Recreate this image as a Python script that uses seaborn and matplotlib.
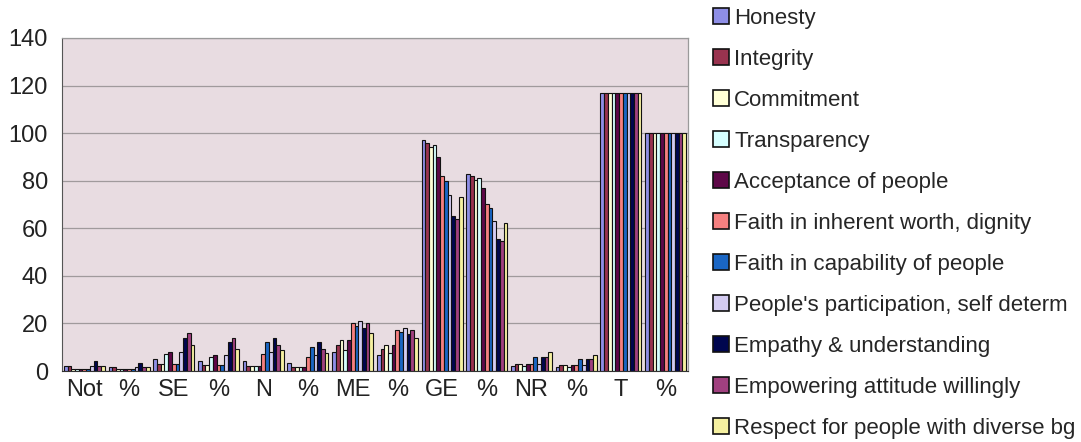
import matplotlib
matplotlib.use("Agg")
import matplotlib.pyplot as plt
from matplotlib.patches import Patch
import seaborn as sns
import pandas as pd

categories = ["Not", "%", "SE", "%", "N", "%", "ME", "%", "GE", "%", "NR", "%", "T", "%"]
series = ["Honesty", "Integrity", "Commitment", "Transparency", "Acceptance of people",
          "Faith in inherent worth, dignity", "Faith in capability of people",
          "People's participation, self determ", "Empathy & understanding",
          "Empowering attitude willingly", "Respect for people with diverse bg"]

honesty      = [2, 1.7, 5, 4.3, 4, 3.4, 8, 6.8, 97, 82.9, 2, 1.7, 117, 100]
integrity    = [2, 1.7, 3, 2.6, 2, 1.7, 11, 9.4, 96, 82.1, 3, 2.6, 117, 100]
commitment   = [1, 0.9, 3, 2.6, 2, 1.7, 13, 11.1, 94, 80.3, 3, 2.6, 117, 100]
transparency = [1, 0.9, 7, 6.0, 2, 1.7, 9, 7.7, 95, 81.2, 2, 1.7, 117, 100]
acceptance   = [1, 0.9, 8, 6.8, 2, 1.7, 13, 11.1, 90, 76.9, 3, 2.6, 117, 100]
faith_worth  = [1, 0.9, 3, 2.6, 7, 6.0, 20, 17.1, 82, 70.1, 3, 2.6, 117, 100]
faith_capab  = [1, 0.9, 3, 2.6, 12, 10.3, 19, 16.2, 80, 68.4, 6, 5.1, 117, 100]
participation= [2, 1.7, 8, 6.8, 8, 6.8, 21, 17.9, 74, 63.2, 3, 2.6, 117, 100]
empathy      = [4, 3.4, 14, 12.0, 14, 12.0, 18, 15.4, 65, 55.6, 6, 5.1, 117, 100]
empowering   = [2, 1.7, 16, 13.7, 11, 9.4, 20, 17.1, 64, 54.7, 6, 5.1, 117, 100]
respect      = [2, 1.7, 11, 9.4, 9, 7.7, 16, 13.7, 73, 62.4, 8, 6.8, 117, 100]

values = [honesty, integrity, commitment, transparency, acceptance, faith_worth,
          faith_capab, participation, empathy, empowering, respect]

colors = ["#8E8EE6", "#99334F", "#FFFFD6", "#D6FFFF", "#5E0848", "#F58080",
          "#1A66C4", "#D4CCF2", "#00064F", "#A0407F", "#F5F0A0"]

keys = [f"{i}_{c}" for i, c in enumerate(categories)]
rows = []
for s, vals in zip(series, values):
    for k, v in zip(keys, vals):
        rows.append({"cat": k, "series": s, "value": v})
df = pd.DataFrame(rows)

sns.set_style("white")
plt.rcParams["font.family"] = ["Liberation Sans", "DejaVu Sans"]

fig = plt.figure(figsize=(10.81, 4.42), dpi=100)
fig.patch.set_facecolor("white")
ax = fig.add_axes([62 / 1081, 1 - 371 / 442, (688 - 62) / 1081, (371 - 38) / 442])
ax.set_facecolor("#E8DCE1")

sns.barplot(data=df, x="cat", y="value", hue="series", order=keys, hue_order=series,
            palette=colors, saturation=1, width=0.92, edgecolor="#111111", linewidth=0.8,
            ax=ax, legend=False)

ax.set_ylim(0, 140)
ax.set_yticks(range(0, 141, 20))
ax.set_xlim(-0.5, len(categories) - 0.5)
ax.set_xticks(range(len(categories)))
ax.set_xticklabels(categories)
ax.set_xlabel("")
ax.set_ylabel("")
ax.yaxis.grid(True, color="#A09A9C", linewidth=0.9)
ax.set_axisbelow(True)
ax.tick_params(axis="both", labelsize=17, colors="#222222", length=0, pad=6)
ax.tick_params(axis="y", length=4, direction="out", color="#555555")
for side in ["top", "right"]:
    ax.spines[side].set_color("#9A9A9A")
    ax.spines[side].set_linewidth(0.9)
ax.spines["left"].set_color("#555555")
ax.spines["bottom"].set_color("#333333")

handles = [Patch(facecolor=c, edgecolor="#111111", linewidth=1.2) for c in colors]
fig.legend(handles, series, loc="upper left", bbox_to_anchor=(713 / 1081, 1 - 8 / 442),
           frameon=False, fontsize=16, handlelength=0.7, handleheight=0.7,
           handletextpad=0.25, labelspacing=0.90, borderpad=0, borderaxespad=0)

fig.savefig("out.png", dpi=100, facecolor="white")
